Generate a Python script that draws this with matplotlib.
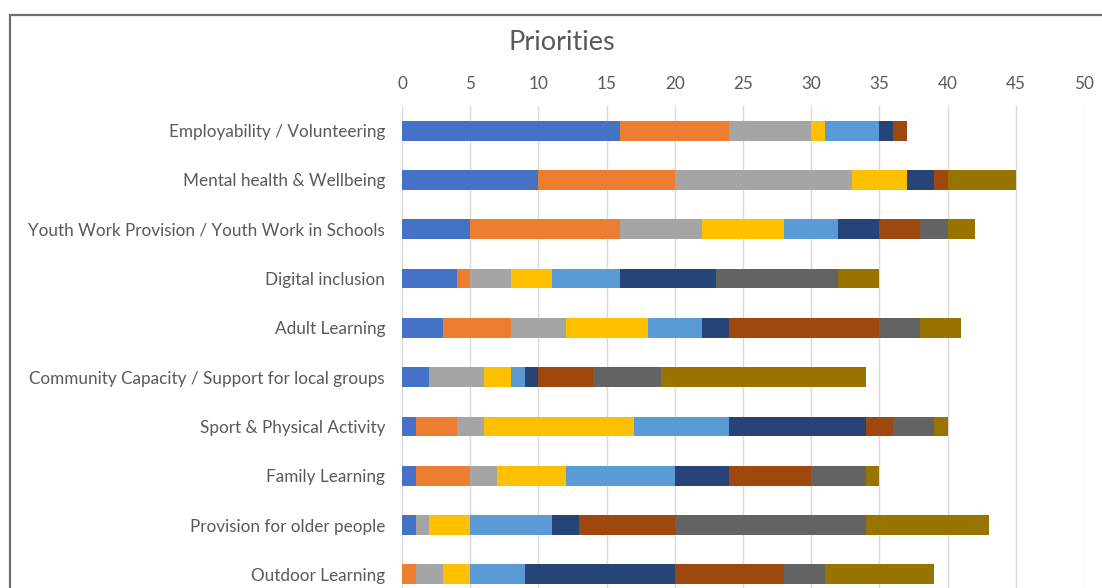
import matplotlib
matplotlib.use('Agg')
import matplotlib.pyplot as plt
from matplotlib.patches import Rectangle

categories = ['Employability / Volunteering', 'Mental health & Wellbeing',
              'Youth Work Provision / Youth Work in Schools', 'Digital inclusion',
              'Adult Learning', 'Community Capacity / Support for local groups',
              'Sport & Physical Activity', 'Family Learning',
              'Provision for older people', 'Outdoor Learning']

# one list per stacked series (values per category, top to bottom)
s1 = [16, 10, 5, 4, 3, 2, 1, 1, 1, 0]
s2 = [8, 10, 11, 1, 5, 0, 3, 4, 0, 1]
s3 = [6, 13, 6, 3, 4, 4, 2, 2, 1, 2]
s4 = [1, 4, 6, 3, 6, 2, 11, 5, 3, 2]
s5 = [4, 0, 4, 5, 4, 1, 7, 8, 6, 4]
s6 = [1, 2, 3, 7, 2, 1, 10, 4, 2, 11]
s7 = [1, 1, 3, 0, 11, 4, 2, 6, 7, 8]
s8 = [0, 0, 2, 9, 3, 5, 3, 4, 14, 3]
s9 = [0, 5, 2, 3, 3, 15, 1, 1, 9, 8]
series = [s1, s2, s3, s4, s5, s6, s7, s8, s9]
colors = ['#4472C4', '#ED7D31', '#A5A5A5', '#FFC000', '#5B9BD5',
          '#264478', '#9E480E', '#636363', '#997300']

xticks = list(range(0, 51, 5))

plt.rcParams['font.family'] = ['Lato', 'DejaVu Sans']

fig = plt.figure(figsize=(11.02, 5.88), dpi=100)
W, H = 1102, 588
# plot area runs past the bottom of the picture (cropped screenshot)
ax = fig.add_axes([402 / W, (H - 106 - 493) / H, 682 / W, 493 / H])

y = list(range(len(categories)))
left = [0] * len(categories)
for vals, c in zip(series, colors):
    ax.barh(y, vals, left=left, height=0.4, color=c, zorder=3)
    left = [a + b for a, b in zip(left, vals)]

ax.set_xlim(0, 50)
ax.set_ylim(len(categories) - 0.5, -0.5)
ax.set_yticks(y)
ax.set_yticklabels(categories, fontsize=12.3, color='#595959')
ax.set_xticks(xticks)
ax.set_xticklabels([str(v) for v in xticks], fontsize=12.3, color='#595959')
ax.xaxis.tick_top()
ax.tick_params(axis='both', length=0)
ax.tick_params(axis='y', pad=12.2)
ax.tick_params(axis='x', pad=10.4)
ax.grid(axis='x', color='#D9D9D9', linewidth=1, zorder=0)
for s in ax.spines.values():
    s.set_visible(False)

fig.text(562 / W, 1 - 42 / H, 'Priorities', fontsize=19.5, color='#595959',
         ha='center', va='center')

fig.patches.append(Rectangle((10 / W, -0.1), 1.2, 1.1 - 15 / H, transform=fig.transFigure,
                             fill=False, edgecolor='#6E6E6E', linewidth=1.6))

fig.savefig('out.png', dpi=100)
